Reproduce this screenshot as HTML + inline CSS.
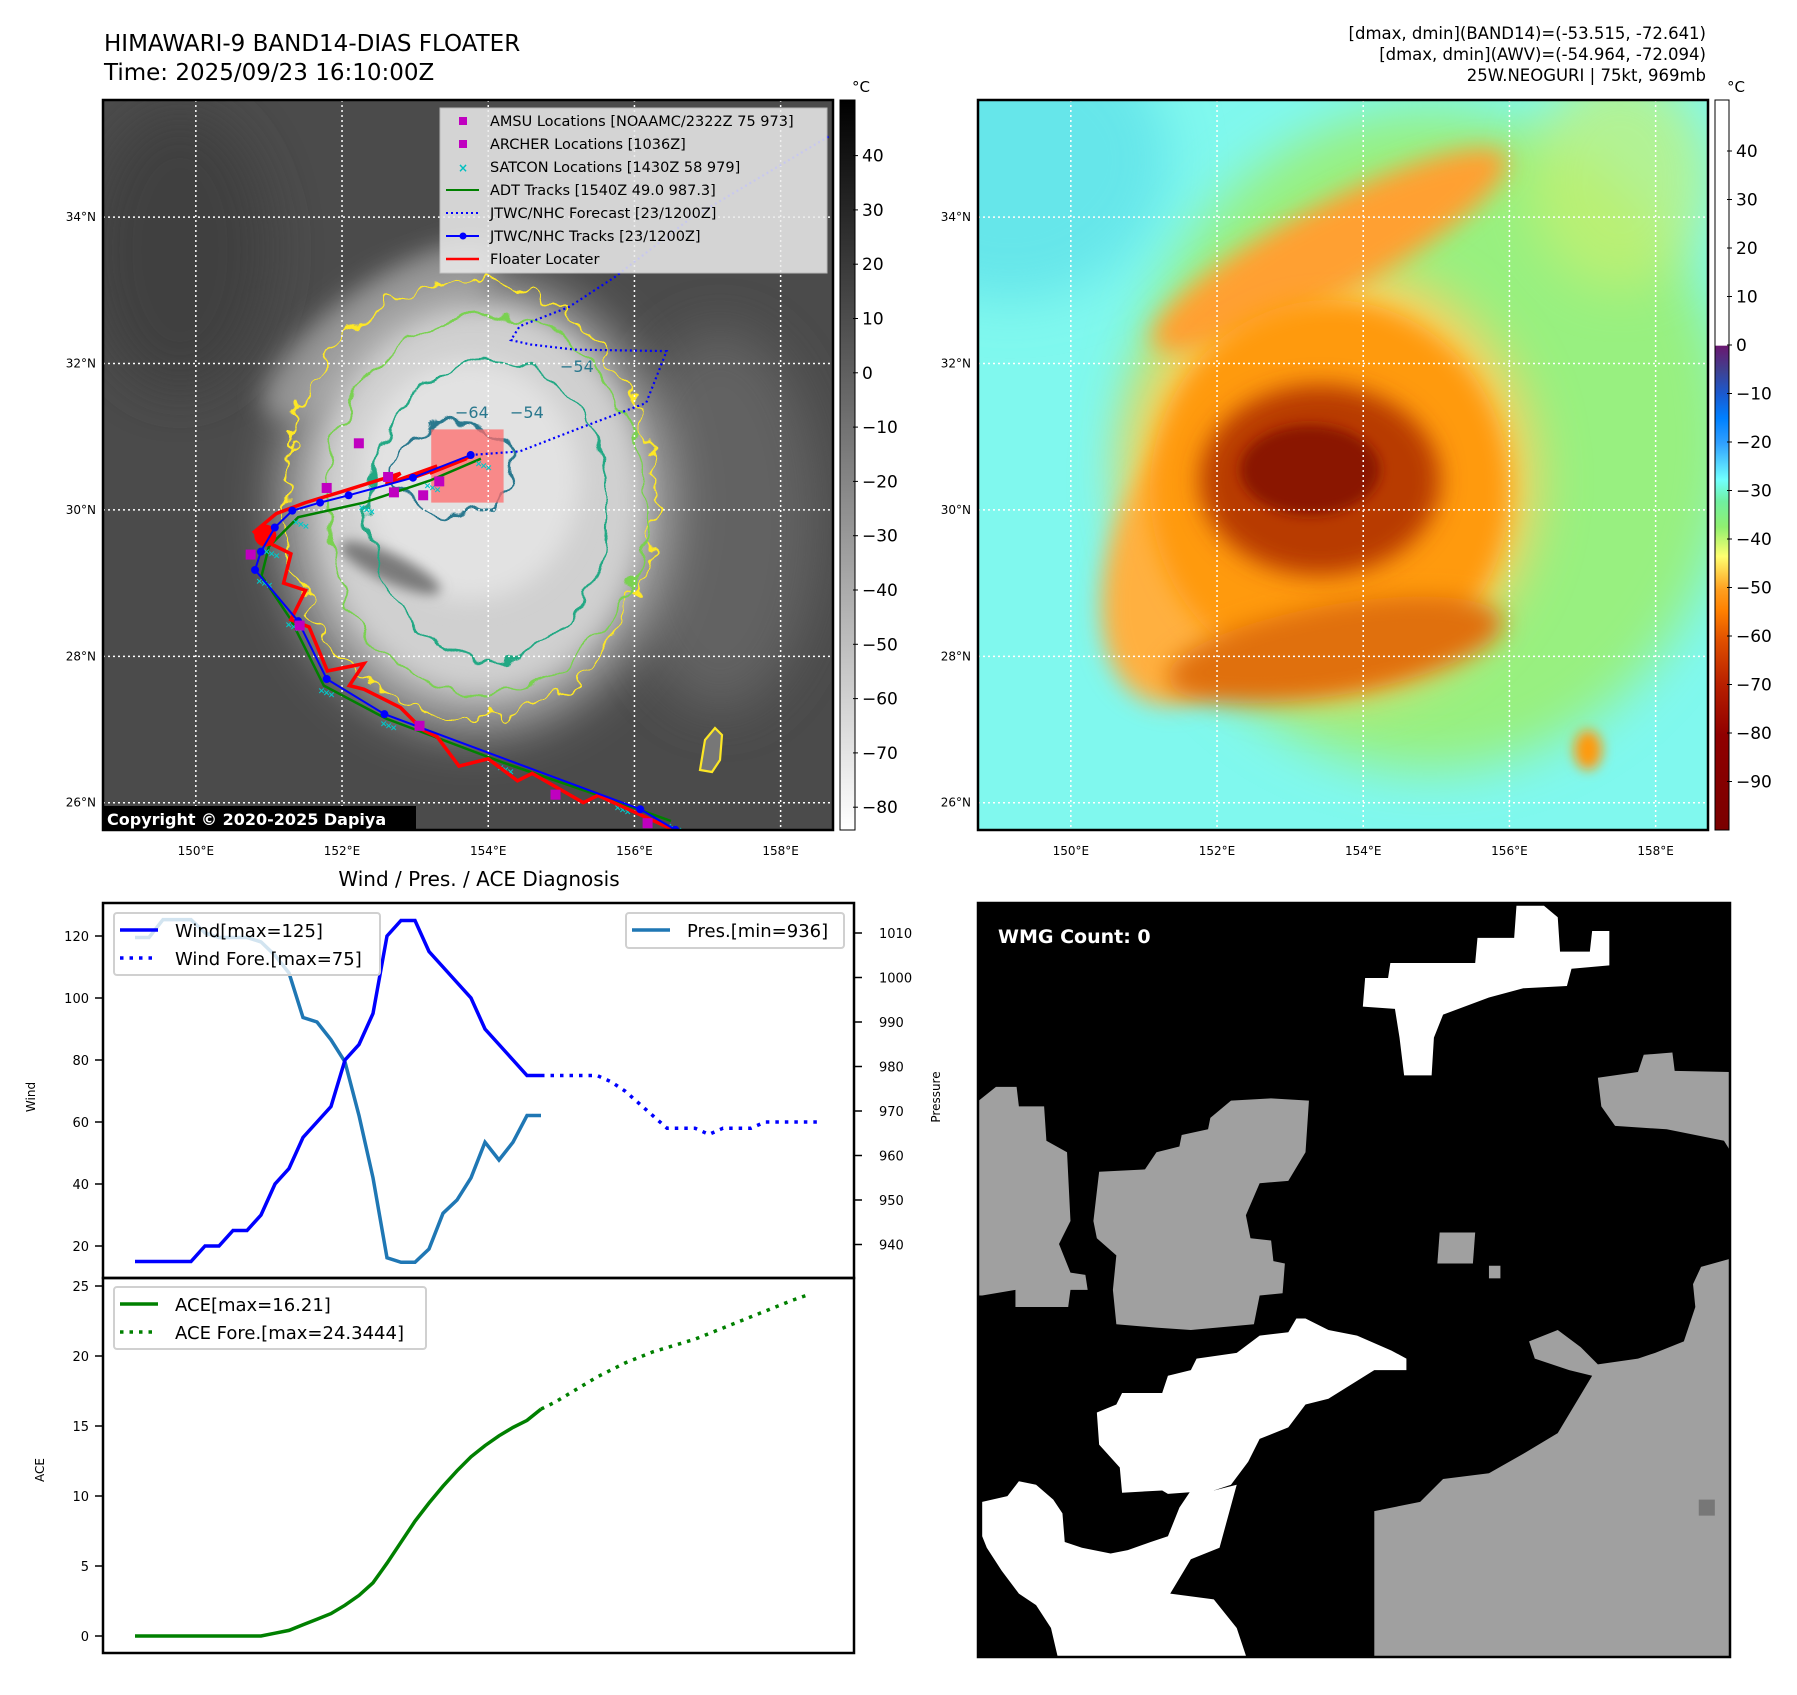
<!DOCTYPE html>
<html><head><meta charset="utf-8">
<style>
html,body{margin:0;padding:0;background:#fff;}
body{width:1797px;height:1690px;overflow:hidden;font-family:"Liberation Sans","DejaVu Sans",sans-serif;}
svg text{font-family:"DejaVu Sans","Liberation Sans",sans-serif;}
</style></head>
<body>
<svg id="fig" width="1797" height="1690" viewBox="0 0 1797 1690" xmlns="http://www.w3.org/2000/svg">
<defs>
  <filter id="b25" x="-50%" y="-50%" width="200%" height="200%"><feGaussianBlur stdDeviation="25"/></filter>
  <filter id="b12" x="-50%" y="-50%" width="200%" height="200%"><feGaussianBlur stdDeviation="12"/></filter>
  <filter id="b6" x="-50%" y="-50%" width="200%" height="200%"><feGaussianBlur stdDeviation="6"/></filter>
  <filter id="wob" x="-20%" y="-20%" width="140%" height="140%"><feTurbulence type="fractalNoise" baseFrequency="0.035" numOctaves="2" seed="3" result="n"/><feDisplacementMap in="SourceGraphic" in2="n" scale="28" xChannelSelector="R" yChannelSelector="G"/></filter>
  <filter id="wob2" x="-20%" y="-20%" width="140%" height="140%"><feTurbulence type="fractalNoise" baseFrequency="0.05" numOctaves="2" seed="7" result="n"/><feDisplacementMap in="SourceGraphic" in2="n" scale="40" xChannelSelector="R" yChannelSelector="G"/></filter>
  <linearGradient id="cbL" x1="0" y1="0" x2="0" y2="1"><stop offset="0" stop-color="#000"/><stop offset="1" stop-color="#fff"/></linearGradient>
  <linearGradient id="cbR" x1="0" y1="0" x2="0" y2="1">
    <stop offset="0" stop-color="#fff"/><stop offset="0.336" stop-color="#fff"/>
    <stop offset="0.337" stop-color="#6a1870"/><stop offset="0.37" stop-color="#404090"/>
    <stop offset="0.403" stop-color="#1a5ad0"/><stop offset="0.436" stop-color="#0080ff"/>
    <stop offset="0.47" stop-color="#30a0ff"/><stop offset="0.52" stop-color="#70ffff"/>
    <stop offset="0.55" stop-color="#70f0a0"/><stop offset="0.585" stop-color="#90f070"/>
    <stop offset="0.625" stop-color="#ffff70"/><stop offset="0.67" stop-color="#ffa020"/>
    <stop offset="0.7" stop-color="#ff8000"/><stop offset="0.74" stop-color="#e05000"/>
    <stop offset="0.8" stop-color="#b82000"/><stop offset="0.87" stop-color="#900000"/>
    <stop offset="1" stop-color="#7a0000"/></linearGradient>
  <clipPath id="clipL"><rect x="103" y="100" width="730" height="730"/></clipPath>
  <clipPath id="clipR"><rect x="978" y="100" width="730" height="730"/></clipPath>
  <clipPath id="clipW"><rect x="978" y="903" width="752" height="754"/></clipPath>
</defs>

<text x="104" y="51" font-size="23">HIMAWARI-9 BAND14-DIAS FLOATER</text>
<text x="104" y="80" font-size="23">Time: 2025/09/23 16:10:00Z</text>
<g font-size="16.5" text-anchor="end">
  <text x="1706" y="39">[dmax, dmin](BAND14)=(-53.515, -72.641)</text>
  <text x="1706" y="60">[dmax, dmin](AWV)=(-54.964, -72.094)</text>
  <text x="1706" y="81">25W.NEOGURI | 75kt, 969mb</text>
</g>

<!-- LEFT MAP -->
<g clip-path="url(#clipL)">
  <rect x="103" y="100" width="730" height="730" fill="#4b4b4b"/>
  <ellipse cx="720" cy="520" rx="100" ry="190" fill="#626262" filter="url(#b25)"/>
  <ellipse cx="180" cy="250" rx="90" ry="140" fill="#414141" filter="url(#b25)"/>
  <ellipse cx="380" cy="330" rx="140" ry="45" transform="rotate(-35 380 330)" fill="#8a8a8a" filter="url(#b12)"/>
  <ellipse cx="475" cy="505" rx="195" ry="225" fill="#b0b0b0" filter="url(#b25)"/>
  <ellipse cx="480" cy="500" rx="160" ry="190" fill="#d0d0d0" filter="url(#b12)"/>
  <ellipse cx="470" cy="480" rx="110" ry="120" fill="#e2e2e2" filter="url(#b12)"/>
  <ellipse cx="390" cy="568" rx="55" ry="14" transform="rotate(25 390 568)" fill="#7a7a7a" filter="url(#b6)"/>
  <g fill="none" stroke-width="2.2">
    <ellipse cx="470" cy="500" rx="185" ry="218" stroke="#fde725" filter="url(#wob2)"/>
    <ellipse cx="485" cy="505" rx="160" ry="190" stroke="#7ad151" filter="url(#wob)"/>
    <ellipse cx="490" cy="510" rx="120" ry="150" stroke="#22a884" filter="url(#wob)"/>
    <ellipse cx="455" cy="470" rx="62" ry="45" stroke="#2a788e" filter="url(#wob)"/>
  </g>
  <path d="M700,770 L705,740 L715,728 L722,735 L720,760 L712,772 Z" fill="#777" stroke="#fde725" stroke-width="2.2"/>
  <g font-size="16" fill="#2a788e"><text x="455" y="418">−64</text><text x="510" y="418">−54</text><text x="560" y="372">−54</text></g>
  <rect id="fbox" fill="#ff6b6b" opacity="0.75"/>
  <g id="gridL"></g>
  <g id="tracksL"></g>
</g>
<rect x="103" y="100" width="730" height="730" fill="none" stroke="#000" stroke-width="2.5"/>
<g>
  <rect x="440" y="108" width="387" height="165" fill="#ececec" opacity="0.85" stroke="#ccc"/>
  <g font-size="14.5" fill="#000">
    <rect x="459" y="117" width="8" height="8" fill="#c000c0"/><text x="490" y="126">AMSU Locations [NOAAMC/2322Z 75 973]</text>
    <rect x="459" y="140" width="8" height="8" fill="#c000c0"/><text x="490" y="149">ARCHER Locations [1036Z]</text>
    <text x="463" y="172" fill="#00c0c0" font-size="12" text-anchor="middle" font-weight="bold">×</text><text x="490" y="172">SATCON Locations [1430Z 58 979]</text>
    <line x1="446" y1="190" x2="479" y2="190" stroke="#008000" stroke-width="2"/><text x="490" y="195">ADT Tracks [1540Z 49.0 987.3]</text>
    <line x1="446" y1="213" x2="479" y2="213" stroke="#0000ff" stroke-width="2" stroke-dasharray="2,3"/><text x="490" y="218">JTWC/NHC Forecast [23/1200Z]</text>
    <line x1="446" y1="236" x2="479" y2="236" stroke="#0000ff" stroke-width="2"/><circle cx="463" cy="236" r="3.5" fill="#0000ff"/><text x="490" y="241">JTWC/NHC Tracks [23/1200Z]</text>
    <line x1="446" y1="259" x2="479" y2="259" stroke="#ff0000" stroke-width="2.5"/><text x="490" y="264">Floater Locater</text>
  </g>
</g>
<g>
  <rect x="102" y="806" width="314" height="24" fill="#000"/>
  <text x="107" y="825" font-size="16" font-weight="bold" fill="#fff">Copyright © 2020-2025 Dapiya</text>
</g>
<rect x="840" y="100" width="15" height="730" fill="url(#cbL)" stroke="#000" stroke-width="1"/>
<text x="852" y="92" font-size="15">°C</text>
<g id="cbLticks" font-size="17"></g>
<g id="axLabelsL" font-size="12"></g>

<!-- RIGHT MAP -->
<g clip-path="url(#clipR)">
  <rect x="978" y="100" width="730" height="730" fill="#80f8ee"/>
  <ellipse cx="1010" cy="160" rx="160" ry="140" fill="#66e6ea" filter="url(#b25)"/>
  <ellipse cx="1430" cy="440" rx="300" ry="330" fill="#98f080" filter="url(#b25)"/>
  <ellipse cx="1620" cy="180" rx="90" ry="110" fill="#c8f070" filter="url(#b25)" opacity="0.7"/>
  <ellipse cx="1330" cy="480" rx="205" ry="215" fill="#ffd060" filter="url(#b25)"/>
  <ellipse cx="1330" cy="250" rx="200" ry="45" transform="rotate(-28 1330 250)" fill="#ffa030" filter="url(#b12)"/>
  <ellipse cx="1200" cy="560" rx="90" ry="150" transform="rotate(20 1200 560)" fill="#ffb040" filter="url(#b12)"/>
  <ellipse cx="1330" cy="490" rx="180" ry="190" fill="#ff9a10" filter="url(#b12)"/>
  <ellipse cx="1335" cy="650" rx="170" ry="45" transform="rotate(-10 1335 650)" fill="#e07010" filter="url(#b12)"/>
  <ellipse cx="1320" cy="480" rx="120" ry="95" fill="#b83a00" filter="url(#b12)"/>
  <ellipse cx="1310" cy="470" rx="70" ry="45" fill="#8a1800" filter="url(#b6)"/>
  <ellipse cx="1588" cy="750" rx="14" ry="20" fill="#ff9a10" filter="url(#b6)"/>
  <g id="gridR"></g>
</g>
<rect x="978" y="100" width="730" height="730" fill="none" stroke="#000" stroke-width="2.5"/>
<rect x="1715" y="100" width="14" height="730" fill="url(#cbR)" stroke="#000" stroke-width="1"/>
<text x="1727" y="92" font-size="15">°C</text>
<g id="cbRticks" font-size="17"></g>
<g id="axLabelsR" font-size="12"></g>

<text x="479" y="886" font-size="20" text-anchor="middle">Wind / Pres. / ACE Diagnosis</text>
<g id="chart"></g>

<g clip-path="url(#clipW)">
  <rect x="978" y="903" width="752" height="754" fill="#000"/>
  <g id="wmg" transform="translate(-1.5,0) scale(1.1465)"></g>
</g>
<rect x="978" y="903" width="752" height="754" fill="none" stroke="#000" stroke-width="2.5"/>
<text x="998" y="943" font-size="19" font-weight="bold" fill="#fff">WMG Count: 0</text>
</svg>

<script>
var windObs = [15,15,15,15,15,20,20,25,25,30,40,45,55,60,65,80,85,95,120,125,125,115,110,105,100,90,85,80,75,75];
var windFore = [75,75,75,75,75,73,70,66,62,58,58,58,56,58,58,58,60,60,60,60,60];
var presObs = [1009,1009,1013,1013,1013,1010,1009,1009,1009,1008,1005,1001,991,990,986,981,969,955,937,936,936,939,947,950,955,963,959,963,969,969];
var aceObs = [0,0,0,0,0,0,0,0,0,0,0.2,0.4,0.8,1.2,1.6,2.2,2.9,3.8,5.2,6.7,8.2,9.5,10.7,11.8,12.8,13.6,14.3,14.9,15.4,16.21];
var aceFore = [16.21,16.7,17.3,17.9,18.5,19.0,19.5,19.9,20.3,20.6,20.9,21.2,21.6,22.0,22.4,22.8,23.2,23.6,24.0,24.3444];
var windTicks = [20,40,60,80,100,120];
var presTicks = [940,950,960,970,980,990,1000,1010];
var aceTicks = [0,5,10,15,20,25];
var cbIrTicks = [40,30,20,10,0,-10,-20,-30,-40,-50,-60,-70,-80];
var cbAwvTicks = [40,30,20,10,0,-10,-20,-30,-40,-50,-60,-70,-80,-90];
var lonTicks = [150,152,154,156,158];
var latTicks = [26,28,30,32,34];
var jtwcTrack = [[156.56,25.63],[156.08,25.91],[152.58,27.21],[151.79,27.69],[151.40,28.48],[150.81,29.18],[150.89,29.43],[151.08,29.76],[151.32,29.99],[151.70,30.10],[152.09,30.20],[152.97,30.44],[153.76,30.75]];
var jtwcFore = [[153.76,30.75],[154.43,30.80],[155.26,31.12],[156.16,31.46],[156.44,32.17],[155.18,32.19],[154.58,32.26],[154.31,32.32],[154.43,32.51],[155.10,32.77],[155.73,33.18],[156.75,33.97],[158.67,35.11]];
var adtTrack = [[156.5,25.75],[155.8,26.0],[154.2,26.55],[152.6,27.15],[151.75,27.6],[151.3,28.5],[150.9,29.1],[151.0,29.5],[151.4,29.9],[152.3,30.1],[153.2,30.4],[153.9,30.7]];
var floaterTrack = [[156.6,25.6],[155.5,26.1],[155.3,26.0],[154.6,26.4],[154.4,26.3],[154.0,26.6],[153.6,26.5],[153.3,26.9],[153.1,27.0],[152.8,27.3],[152.5,27.45],[152.3,27.55],[152.1,27.6],[152.3,27.9],[151.8,27.8],[151.55,28.4],[151.3,28.5],[151.5,28.9],[151.2,29.0],[151.3,29.4],[150.9,29.6],[150.8,29.7],[151.1,29.95],[151.5,30.1],[152.0,30.25],[152.8,30.5],[152.6,30.35],[153.3,30.6],[153.0,30.45],[153.7,30.7],[153.2,30.5],[153.8,30.75]];
var amsuPts = [[152.23,30.91],[151.79,30.30],[152.63,30.45],[152.71,30.24],[153.11,30.20],[153.33,30.39],[150.75,29.39],[151.42,28.42],[153.06,27.05],[154.92,26.11],[156.18,25.72]];
var floaterBox = [153.22,31.1,154.21,30.1];

var NS='http://www.w3.org/2000/svg';
function mk(tag, attrs, parent){var e=document.createElementNS(NS,tag);for(var k in attrs)e.setAttribute(k,attrs[k]);if(parent)parent.appendChild(e);return e;}
function lonX(lon,off){return 103+(lon-148.73)*73.1+(off||0);}
function latY(lat){return 100+(35.6-lat)*73.2;}
function pts(arr,off){return arr.map(function(p){return lonX(p[0],off).toFixed(1)+','+latY(p[1]).toFixed(1);}).join(' ');}

[['gridL',0,'axLabelsL',96],['gridR',875,'axLabelsR',971]].forEach(function(g){
  var gr=document.getElementById(g[0]), lab=document.getElementById(g[2]);
  lonTicks.forEach(function(l){
    var x=lonX(l,g[1]);
    var ln=mk('line',{x1:x,y1:100,x2:x,y2:830,stroke:'#fff','stroke-width':1.5,'stroke-dasharray':'2,3'},gr);
    
    
    var t=mk('text',{x:x,y:855,'text-anchor':'middle'},lab);t.textContent=l+'°E';
    
    
  });
  latTicks.forEach(function(l){
    var y=latY(l);
    var ln=mk('line',{x1:103+g[1],y1:y,x2:833+g[1],y2:y,stroke:'#fff','stroke-width':1.5,'stroke-dasharray':'2,3'},gr);
    
    
    var t=mk('text',{x:g[3],y:y+4,'text-anchor':'end'},lab);t.textContent=l+'°N';
    
    
  });
});

(function(){var b=document.getElementById('fbox');b.setAttribute('x',lonX(floaterBox[0]));b.setAttribute('y',latY(floaterBox[1]));b.setAttribute('width',lonX(floaterBox[2])-lonX(floaterBox[0]));b.setAttribute('height',latY(floaterBox[3])-latY(floaterBox[1]));})();

(function(){
  var g=document.getElementById('tracksL');
  var adt=mk('polyline',{points:pts(adtTrack),fill:'none',stroke:'#008000','stroke-width':2.5},g);
  
  
  adtTrack.forEach(function(p,i){
    for(var k=0;k<3;k++){
      var c=mk('text',{x:lonX(p[0])-6+k*5,y:latY(p[1])+8+k*2,'font-size':9,fill:'#00c8c8','font-weight':'bold'},g);c.textContent='×';
      
      
    }
  });
  var fl=mk('polyline',{points:pts(floaterTrack),fill:'none',stroke:'#ff0000','stroke-width':3.5,'stroke-linejoin':'miter'},g);
  
  
  var blob=mk('circle',{cx:lonX(150.95),cy:latY(29.65),r:11,fill:'#ff0000'},g);
  
  
  var fc=mk('polyline',{points:pts(jtwcFore),fill:'none',stroke:'#0000ff','stroke-width':2.2,'stroke-dasharray':'2,3'},g);
  
  
  var tr=mk('polyline',{points:pts(jtwcTrack),fill:'none',stroke:'#0000ff','stroke-width':2},g);
  
  
  jtwcTrack.forEach(function(p){
    var c=mk('circle',{cx:lonX(p[0]),cy:latY(p[1]),r:4,fill:'#0000ff'},g);
    
    
  });
  amsuPts.forEach(function(p){
    var r=mk('rect',{x:lonX(p[0])-5,y:latY(p[1])-5,width:10,height:10,fill:'#c000c0'},g);
    
    
  });
})();

function cbTicks(id,ticks,x,y0,v0,ppu){
  var g=document.getElementById(id);
  ticks.forEach(function(v){
    var y=y0+(v0-v)*ppu;
    mk('line',{x1:x-2,y1:y,x2:x+3,y2:y,stroke:'#000','stroke-width':1},g);
    var t=mk('text',{x:x+7,y:y+6},g);t.textContent=(v<0?'\u2212'+(-v):v);
    
    
  });
}
cbTicks('cbLticks',cbIrTicks,855,155.6,40,5.43);
cbTicks('cbRticks',cbAwvTicks,1729,151,40,4.85);

(function(){
  var g=document.getElementById('chart');
  var L=103,R=854,T=903,M=1278,B=1653;
  function xi(i){return 135+i*14.0;}
  function yw(v){return 936+(120-v)*3.1;}
  function yp(v){return 933+(1010-v)*4.45;}
  function ya(v){return 1636-v*14;}
  function line(vals,off,yf,attrs,name){
    var p=vals.map(function(v,i){return xi(i+off).toFixed(1)+','+yf(v).toFixed(1);}).join(' ');
    attrs.points=p;attrs.fill='none';
    var e=mk('polyline',attrs,g);
    
    
  }
  mk('rect',{x:L,y:T,width:R-L,height:M-T,fill:'none',stroke:'#000','stroke-width':2.5},g);
  mk('rect',{x:L,y:M,width:R-L,height:B-M,fill:'none',stroke:'#000','stroke-width':2.5},g);
  windTicks.forEach(function(v){var y=yw(v);mk('line',{x1:L-8,y1:y,x2:L,y2:y,stroke:'#000','stroke-width':1.5},g);var t=mk('text',{x:L-14,y:y+5,'text-anchor':'end','font-size':13},g);t.textContent=v;
    
    });
  presTicks.forEach(function(v){var y=yp(v);mk('line',{x1:R,y1:y,x2:R+8,y2:y,stroke:'#000','stroke-width':1.5},g);var t=mk('text',{x:R+25,y:y+5,'font-size':13},g);t.textContent=v;
    
    });
  aceTicks.forEach(function(v){var y=ya(v);mk('line',{x1:L-8,y1:y,x2:L,y2:y,stroke:'#000','stroke-width':1.5},g);var t=mk('text',{x:L-14,y:y+5,'text-anchor':'end','font-size':13},g);t.textContent=v;
    
    });
  var a=mk('text',{x:35,y:1097,'font-size':12,transform:'rotate(-90 35 1097)','text-anchor':'middle'},g);a.textContent='Wind';
  
  
  a=mk('text',{x:940,y:1097,'font-size':12,transform:'rotate(-90 940 1097)','text-anchor':'middle'},g);a.textContent='Pressure';
  
  
  a=mk('text',{x:44,y:1470,'font-size':12,transform:'rotate(-90 44 1470)','text-anchor':'middle'},g);a.textContent='ACE';
  
  
  line(presObs,0,yp,{stroke:'#1f77b4','stroke-width':3.5},'pressure-line');
  line(windObs,0,yw,{stroke:'#0000ff','stroke-width':3.5},'wind-line');
  line(windFore,windObs.length-1,yw,{stroke:'#0000ff','stroke-width':3.5,'stroke-dasharray':'3.5,6'},'wind-forecast-line');
  line(aceObs,0,ya,{stroke:'#008000','stroke-width':3.5},'ace-line');
  line(aceFore,aceObs.length-1,ya,{stroke:'#008000','stroke-width':3.5,'stroke-dasharray':'3.5,6'},'ace-forecast-line');
  function legend(x,y,w,h,items,name){
    var lg=mk('g',{},g);
    
    
    mk('rect',{x:x,y:y,width:w,height:h,rx:3,fill:'#fff','fill-opacity':0.8,stroke:'#d0d0d0','stroke-width':2},lg);
    items.forEach(function(it,i){
      var cy=y+17+i*28;
      mk('line',{x1:x+6,y1:cy,x2:x+44,y2:cy,stroke:it[1],'stroke-width':3.5,'stroke-dasharray':it[2]?'3.5,6':'none'},lg);
      var t=mk('text',{x:x+61,y:cy+7,'font-size':18},lg);t.textContent=it[0];
    });
  }
  legend(114,913,266,62,[['Wind[max=125]','#0000ff',0],['Wind Fore.[max=75]','#0000ff',1]],'wind-legend');
  legend(626,913,218,35,[['Pres.[min=936]','#1f77b4',0]],'pressure-legend');
  legend(114,1287,312,62,[['ACE[max=16.21]','#008000',0],['ACE Fore.[max=24.3444]','#008000',1]],'ace-legend');
})();

var wmgShapes = [
 ['#a0a0a0','855,960 870,948 888,948 890,965 912,965 914,995 932,1005 935,1065 925,1085 935,1110 948,1112 950,1125 935,1125 933,1140 887,1140 887,1125 858,1130 855,1130'],
 ['#a0a0a0','960,1022 1000,1020 1010,1005 1030,1000 1032,990 1055,985 1057,975 1075,960 1110,958 1143,960 1140,1005 1125,1030 1100,1032 1088,1060 1092,1080 1110,1082 1112,1100 1122,1102 1120,1128 1100,1130 1095,1155 1040,1160 1010,1158 975,1155 972,1125 975,1095 958,1080 955,1065'],
 ['#a0a0a0','1257,1075 1288,1075 1286,1102 1255,1102'],
 ['#a0a0a0','1300,1104 1310,1104 1310,1115 1300,1115'],
 ['#a0a0a0','1395,940 1430,935 1435,920 1460,918 1462,934 1510,935 1510,1003 1505,995 1455,985 1410,982 1398,965'],
 ['#a0a0a0','1200,1450 1200,1318 1240,1310 1260,1290 1300,1285 1330,1268 1360,1250 1390,1200 1370,1195 1340,1185 1335,1170 1360,1160 1380,1175 1395,1190 1430,1185 1445,1180 1470,1170 1480,1140 1478,1120 1485,1105 1510,1098 1510,1450'],
 ['#ffffff','1192,853 1212,853 1214,840 1288,840 1290,818 1322,818 1324,790 1348,790 1360,800 1362,830 1388,830 1390,812 1405,812 1405,842 1372,845 1368,860 1330,862 1300,870 1260,885 1252,905 1250,938 1226,938 1222,905 1218,880 1190,878'],
 ['#ffffff','958,1232 975,1225 980,1215 1015,1215 1020,1200 1040,1195 1045,1185 1080,1180 1100,1165 1125,1162 1132,1150 1140,1150 1160,1160 1185,1165 1215,1178 1228,1185 1228,1195 1200,1195 1160,1220 1140,1225 1125,1245 1100,1255 1090,1275 1075,1295 1060,1300 1020,1303 1015,1300 980,1302 978,1280 960,1260'],
 ['#ffffff','858,1310 880,1305 890,1292 905,1295 920,1308 928,1320 930,1345 945,1350 970,1355 985,1352 1005,1345 1020,1340 1030,1315 1040,1300 1060,1300 1080,1295 1065,1350 1040,1360 1022,1390 1060,1395 1080,1420 1090,1450 925,1450 918,1420 905,1400 890,1390 875,1370 862,1350 858,1340'],
 ['#777777','1483,1308 1497,1308 1497,1322 1483,1322']
];
(function(){
  var g=document.getElementById('wmg');
  wmgShapes.forEach(function(s){
    var p=mk('polygon',{points:s[1],fill:s[0]},g);
    
    
  });
})();
</script>
</body></html>
